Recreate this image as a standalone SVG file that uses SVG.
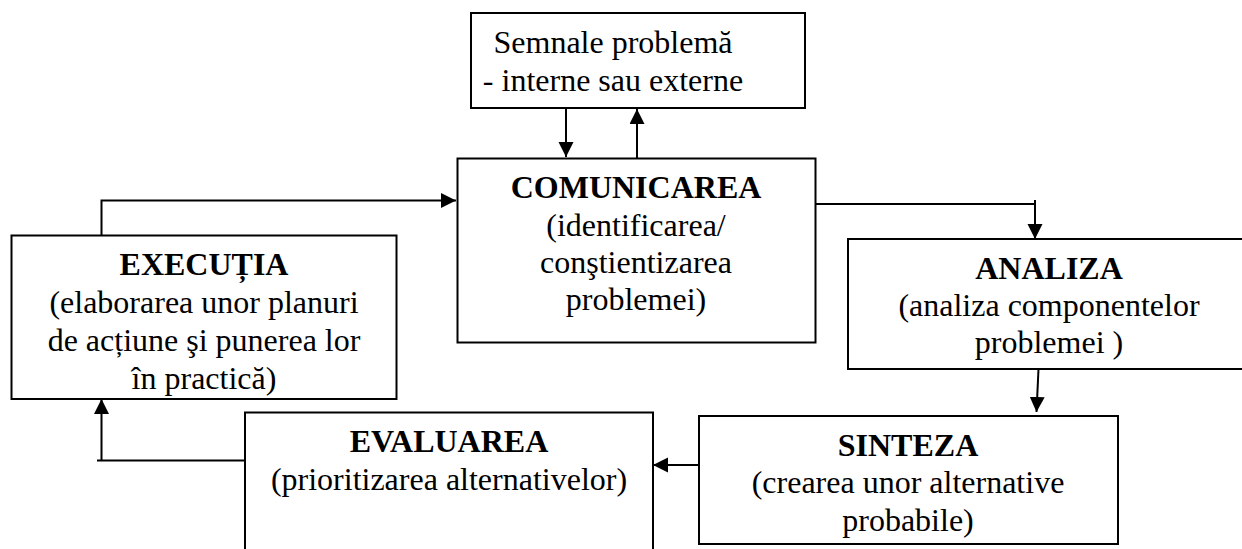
<svg xmlns="http://www.w3.org/2000/svg" width="1242" height="549" viewBox="0 0 1242 549">
<style>
.box{fill:#fff;stroke:#000;stroke-width:2}
.t{font-family:"Liberation Serif","Times New Roman",serif;font-size:32px;fill:#000;text-anchor:middle}
.b{font-weight:bold}
.c{fill:none;stroke:#000;stroke-width:2}
</style>
<defs>
<marker id="arr" markerUnits="userSpaceOnUse" markerWidth="16" markerHeight="16" refX="15" refY="7.5" orient="auto">
<path d="M0,0 L15,7.5 L0,15 z" fill="#000"/>
</marker>
</defs>
<rect width="1242" height="549" fill="#fff"/>
<g id="semnale">
<rect class="box" x="471" y="13" width="334" height="95"/>
<text class="t" x="613" y="53">Semnale problemă</text>
<text class="t" x="613" y="91">- interne sau externe</text>
</g>
<g id="comunicarea">
<rect class="box" x="457.5" y="158.5" width="358" height="184"/>
<text class="t b" x="636" y="198">COMUNICAREA</text>
<text class="t" x="636" y="236">(identificarea/</text>
<text class="t" x="636" y="273">conştientizarea</text>
<text class="t" x="636" y="310">problemei)</text>
</g>
<g id="executia">
<rect class="box" x="11.5" y="235.5" width="385" height="163.5"/>
<text class="t b" x="204" y="275">EXECUȚIA</text>
<text class="t" x="204" y="313">(elaborarea unor planuri</text>
<text class="t" x="204" y="351">de acțiune şi punerea lor</text>
<text class="t" x="204" y="389">în practică)</text>
</g>
<g id="analiza">
<rect class="box" x="848" y="239" width="410" height="130"/>
<text class="t b" x="1049" y="279">ANALIZA</text>
<text class="t" x="1049" y="316">(analiza componentelor</text>
<text class="t" x="1049" y="353">problemei )</text>
</g>
<g id="sinteza">
<rect class="box" x="699" y="416" width="419" height="128"/>
<text class="t b" x="908" y="456">SINTEZA</text>
<text class="t" x="908" y="493">(crearea unor alternative</text>
<text class="t" x="908" y="531">probabile)</text>
</g>
<g id="evaluarea">
<rect class="box" x="245" y="412.5" width="408" height="160"/>
<text class="t b" x="449" y="452">EVALUAREA</text>
<text class="t" x="449" y="490">(prioritizarea alternativelor)</text>
</g>
<g id="connectors">
<path class="c" d="M566,108 V157" marker-end="url(#arr)"/>
<path class="c" d="M637,158 V109" marker-end="url(#arr)"/>
<path class="c" d="M101.5,235 V200.5 H456" marker-end="url(#arr)"/>
<path class="c" d="M816,204 H1035 M1035,200 V239" marker-end="url(#arr)"/>
<path class="c" d="M1038.5,369 L1036.5,412" marker-end="url(#arr)"/>
<path class="c" d="M699,465 H653" marker-end="url(#arr)"/>
<path class="c" d="M245,460.5 H97 M101.5,460.5 V399" marker-end="url(#arr)"/>
</g>
</svg>
